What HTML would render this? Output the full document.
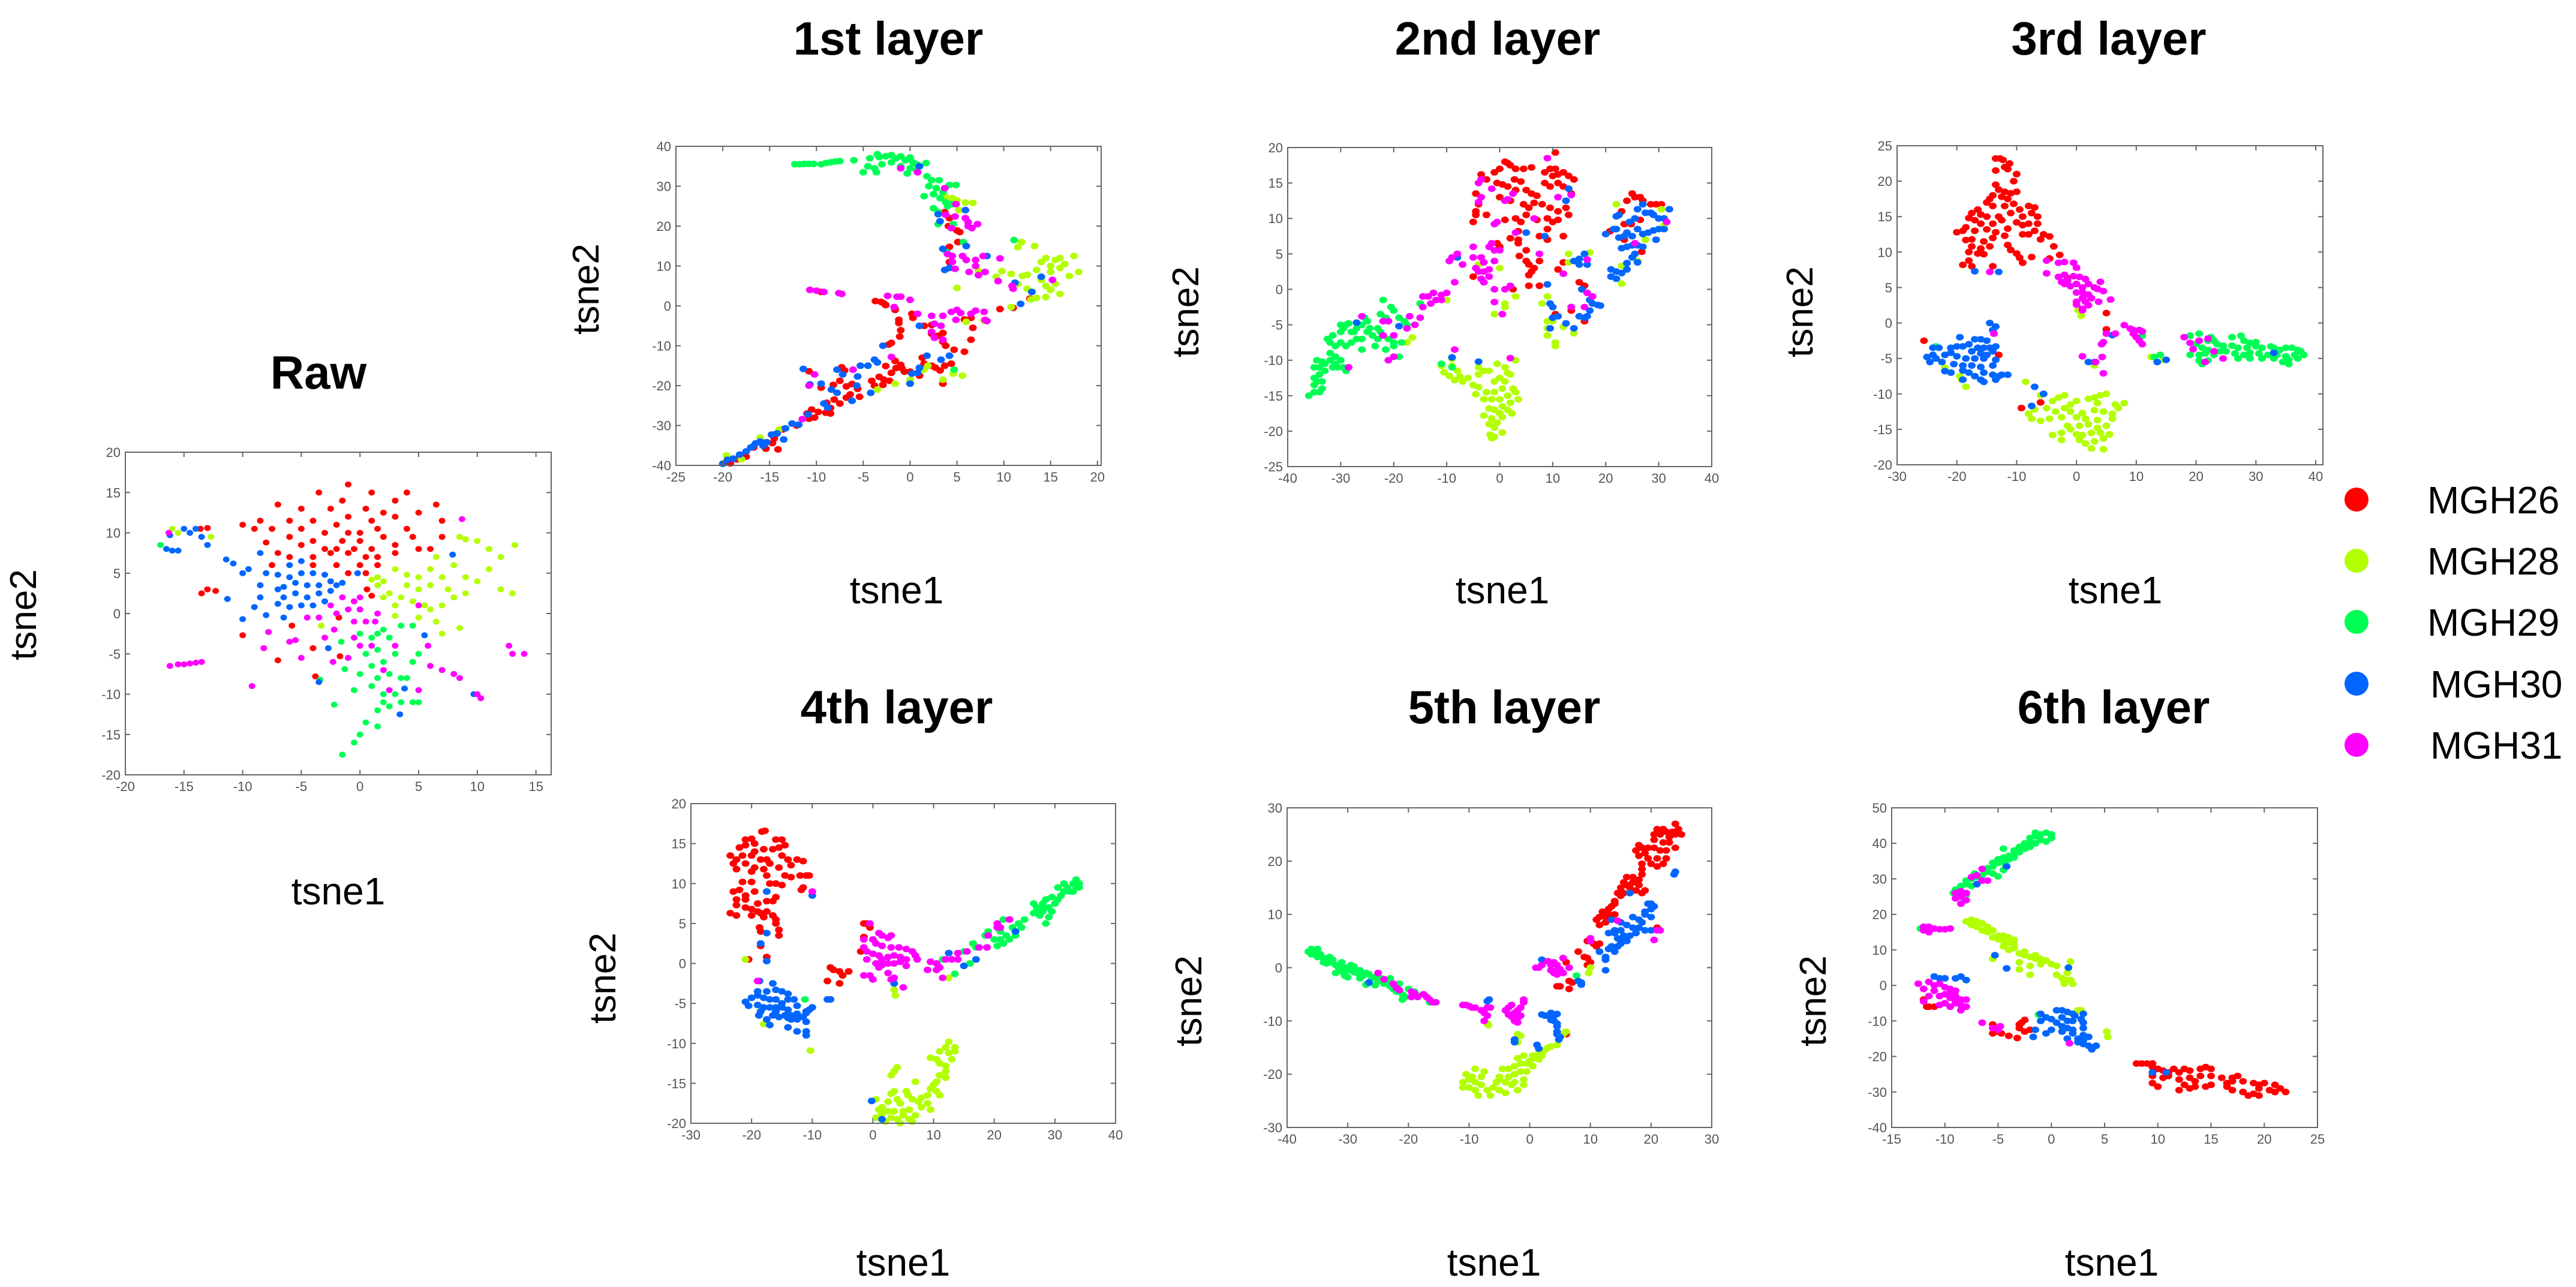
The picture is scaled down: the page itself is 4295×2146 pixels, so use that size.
<!DOCTYPE html>
<html><head><meta charset="utf-8">
<style>
html,body{margin:0;padding:0;background:#fff;}
svg{display:block;}
text{font-family:"Liberation Sans",sans-serif;}
.tk{font-size:22px;fill:#555;}
.ttl{font-size:78px;font-weight:bold;fill:#000;}
.xl{font-size:64px;fill:#000;}
.yl{font-size:62px;fill:#000;}
.lg{font-size:64px;fill:#000;}
</style></head>
<body>
<svg id="fig" width="4295" height="2146" viewBox="0 0 4295 2146" xmlns="http://www.w3.org/2000/svg">
<g id="legend">
<g><circle cx="3929" cy="833" r="20" fill="#ff0000"/><text class="lg" x="4047" y="856">MGH26</text></g>
<g><circle cx="3929" cy="935" r="20" fill="#b3ff00"/><text class="lg" x="4047" y="958">MGH28</text></g>
<g><circle cx="3929" cy="1037" r="20" fill="#00ff55"/><text class="lg" x="4047" y="1060">MGH29</text></g>
<g><circle cx="3929" cy="1140" r="20" fill="#0066ff"/><text class="lg" x="4052" y="1163">MGH30</text></g>
<g><circle cx="3929" cy="1242" r="20" fill="#ff00ff"/><text class="lg" x="4052" y="1265">MGH31</text></g>
</g>
</svg>
<script>
const classNames=["MGH26","MGH28","MGH29","MGH30","MGH31"];
const classColors=["#ff0000","#b3ff00","#00ff55","#0066ff","#ff00ff"];

const rawXTicks=[-20,-15,-10,-5,0,5,10,15];
const rawYTicks=[-20,-15,-10,-5,0,5,10,15,20];
const l1XTicks=[-25,-20,-15,-10,-5,0,5,10,15,20];
const l1YTicks=[-40,-30,-20,-10,0,10,20,30,40];
const l2XTicks=[-40,-30,-20,-10,0,10,20,30,40];
const l2YTicks=[-25,-20,-15,-10,-5,0,5,10,15,20];
const l3XTicks=[-30,-20,-10,0,10,20,30,40];
const l3YTicks=[-20,-15,-10,-5,0,5,10,15,20,25];
const l4XTicks=[-30,-20,-10,0,10,20,30,40];
const l4YTicks=[-20,-15,-10,-5,0,5,10,15,20];
const l5XTicks=[-40,-30,-20,-10,0,10,20,30];
const l5YTicks=[-30,-20,-10,0,10,20,30];
const l6XTicks=[-15,-10,-5,0,5,10,15,20,25];
const l6YTicks=[-40,-30,-20,-10,0,10,20,30,40,50];

const raw26=[-1,16,-3.5,15,1,15,4,15,3,14,-1.5,14,-7,13.5,-5,13,-2.5,13,0.5,13,6.5,13.5,2,12.5,5,12.5,-8.5,11.5,-6,11.5,-4,11.5,-2,11,-1,12,1,11.5,3,12,7,11.5,-10,11,-7.5,10.5,-5,10.5,-3,10,-1,10,0,10,1.5,10.5,4,10.5,-9,10.5,-6,9.5,-4,9,-1.5,9,0,9,2,9.5,4.5,9.5,7,9.5,-8,8.8,-5,8.5,-3,8,-2,8,-0.5,8,1,8,3,8.5,5,8,6,8,-7,7.5,-6,7,-4,7,-2.5,7.5,-1,7.5,0.5,7,1.5,7,3,7.5,-4,6,-2,6,0,6,1.5,6,-7.5,6,-1,5,0.5,5,-13,3,-13.5,2.5,-12.3,2.8,-13.6,10.5,-13,10.6,-10,-2.7,-7,-5.8,-4,-4.3,-3.8,-7.8,-1.7,-5.3,1,2.2,-5.8,-1.5,0.6,3,-1.8,-0.5];
const raw28=[1,4.2,1.5,4.5,2,4,1.5,3.5,3,5.5,4,4.8,5,4.5,6,3.5,7,4.5,2.5,2.5,3.5,2,4.5,1.5,5.5,1,6,0.5,7,1,8,2,9,2.5,10,4,11,5.5,10,9,9,9.2,8.5,9.5,11,8,12,7,12,3,2,2,3,1,5,-0.5,6.5,-1,7,-2.5,4.5,-1.5,3,-0.3,8.5,-1.8,9,4.5,8,6,6.5,7,7.5,3,5,3,4,3.5,6,5.5,-3.3,-1.5,-16,10.5,-15.5,10,-12.7,9.5,13,2.5,13.2,8.5];
const raw29=[-1.5,-17.5,-0.5,-16,0,-15,0.5,-13.5,1.5,-14,1.5,-12,2,-11,2.5,-11.5,2,-10,3,-10,3.5,-11,4.5,-11,1,-9,1.5,-8,2.5,-7.5,3.5,-8,4,-8,0,-7.5,1,-6.5,2,-6,3,-5,4.5,-6,0.5,-5,1.5,-4.5,2.5,-3,1,-3,0,-2.5,2,-2,3.5,-1.5,4.5,-1.5,-1.6,-3.5,-1.3,-6.9,-2.2,-11.3,5,-11,5,-5,1.5,-2.5,-0.5,-9.5,-17,8.5,-3.4,-8.2];
const raw30=[-5,6.5,-6,6,-7,4.8,-6,4.5,-5,5,-4,5,-3,4.8,-2.5,4,-2,3.5,-1.5,3.8,-3.5,3.5,-4.5,3.5,-5.5,3.8,-6.5,3.3,-7,3,-5.5,2.5,-4.5,2,-3.5,2.5,-2.5,2.8,-6.5,2,-5,1,-6,0.8,-7,1.2,-4,1,-3,1.5,-8,5,-8.5,3.5,-8.5,2,-9,0.8,-10,-0.7,-8,-0.2,-6.5,-0.5,-10,5,-9.5,5.5,-10.8,6.2,-11.4,6.7,-11.3,1.8,-8.5,7.5,-15,10.5,-14,10.5,-14.5,10,-13.5,9.5,-13,8.5,-16.5,8,-16,7.8,-15.5,7.8,-16.2,9.7,-2.7,-4.3,3.4,-12.5,3.8,-9.3,5.5,-2.7,7.9,7.3,9.7,-10,-0.2,5,-3.5,-8.5];
const raw31=[-16.2,-6.5,-15.5,-6.3,-15,-6.3,-14.5,-6.2,-14,-6.1,-13.5,-6,-9.2,-9,-8.2,-4.3,-7.8,-2.3,-6,-3.5,-5.5,-3.3,-5,-5.5,-4.5,-0.5,-3.5,-0.5,-2.5,1,-2,0,-1,0.5,-0.5,1.5,0,2,-1.5,2,-0.5,-1,0.5,-1,1.3,-1,1.5,0,0,0.5,-2.2,-2,-3,-3,-0.5,-3,0,-4,1,-4,-2.3,-6,-1,-5.5,2,-7,3,-4,2.5,-9.5,5,-9.5,5,1,5.8,-4,6,-6.5,7,-7,8,-7.5,8.5,-8,8.7,11.7,10,-10,10.3,-10.5,12.7,-4,13,-5,14,-5,-16.3,10];

const l1_26=[-19.2,-39.5,-18.5,-38.5,-17.5,-37.8,-16.7,-35.5,-15.4,-35.8,-15.8,-34.2,-14.5,-33.2,-14.7,-34.4,-14.1,-36,-14.4,-32.2,-13.6,-31,-12.1,-30,-11,-27,-10.8,-28.3,-10.2,-28,-9.8,-26.6,-10.5,-26,-9,-26.8,-8.5,-27,-8.5,-25.6,-8.9,-24.3,-8.1,-23.5,-7.5,-24.5,-6.8,-23,-6.4,-22.2,-5.4,-22.8,-5.6,-20.8,-6.2,-19.6,-6.8,-20.2,-7.5,-18.8,-8.2,-19.8,-9.5,-20.5,-10.8,-16.4,-7.3,-15.4,-7,-16.2,-4.1,-18.8,-3.8,-20,-2.9,-19.8,-3.3,-17.8,-2.8,-18.5,-2.2,-18.8,-2,-16.8,-2.6,-15.1,-1.6,-13.8,-1.5,-15.6,-1,-14.8,-0.9,-15.6,0,-16.5,1,-17.5,-0.6,-16.5,1.3,-13,1.5,-14.5,2.7,-15.5,2.3,-15,3.2,-16.2,3.7,-15,4.4,-14.5,3.5,-19.5,5.8,-11.5,4.7,-11,3.8,-10,3.5,-9,3,-7.5,3.5,-6.8,2.3,-7,1.5,-5,2.3,-4.8,0.2,-2,0.3,-3,-1.2,-3.5,-1.2,-4.3,-1,-6.1,-1.1,-7.7,-2.3,-9.7,-2,-9.3,-1.6,-1,-1.6,-0.7,-2.6,0.2,-2.8,0.6,-3.7,1.2,-3.1,1,-9.5,3.5,6.5,-3,6.7,-5.5,6.5,-8.5,5.8,-3.4,9.6,-0.8,12.8,1.8,4.1,20,5,18.9,5.3,18.5,4.2,22,3.7,23.5,5.1,16,4.2,14.8,4.2,11,11,-0.5];
const l1_28=[4.5,27,5,26.5,3.8,27.3,5.9,25.9,6.7,25.8,5.2,24,7.3,8.8,9.2,7.3,9.8,8.7,10.8,8,11.5,5.5,12,7.5,12.5,7.8,12.5,4.3,13,3.5,13.5,9,14,11,14.5,12,15,10,15.5,11.5,16,12,16.5,10.5,17.5,12.5,18,8.5,17,7.5,16,9.5,15,8.5,14,6.5,14.5,5,15.5,5.5,15,4,16,3,13.5,2,14.5,2.2,12.9,1.6,11.5,14.7,11.9,16,13.3,15,5,4.5,10.8,-0.3,6,-4,7.9,-3.7,1.9,-15,1.5,-16,0,-18.5,4.6,-17,5.6,-17.5,3.5,-18.5,-3.5,-21,-1.6,-19.5,-16,-33,-18,-38.5,-19.6,-37.5,-14,-31];
const l1_29=[-12.3,35.5,-11.8,35.5,-11.3,35.6,-10.8,35.6,-10.3,35.6,-9.5,35.5,-9,35.8,-8.5,36,-8,36.2,-7.5,36.3,-6,36.5,-4.3,37,-3.5,38,-3.3,37.3,-2.6,37.5,-2,37.8,-1.5,37,-1,37.5,-0.5,36.5,0,37.2,0.3,36,-4.5,35,-3.8,34.5,-3,35.5,-2,36,-1,35,0,34.5,0.7,35.5,1.7,35.8,-5,33.5,-3.6,33.5,-0.3,33.2,0.7,34,1.8,32.5,2.3,31.5,3.1,31.5,4.2,30.3,4.9,30.3,2,30,2.8,29.5,3.5,28.5,1.5,27.5,2.5,28,3.2,27,3.8,26,4.5,25.5,2.5,24.5,4,25,3,23.5,3,20.5,4.6,20.5,5.7,16,3.9,13.5,11.1,16.5,4.7,-16];
const l1_30=[1,35,3,23,3.2,21.2,5.9,24,6,15,3.5,14.3,8.2,12.5,3.7,9,4.2,9.5,11.2,5.8,14,7.3,13,3.5,11.8,0.5,1,-5,-2.9,-10,-3.8,-13.5,-3.5,-14.2,1.8,-12.5,3.3,-13.5,4.2,-12.5,0.2,-17,0.8,-16.8,1,-15.5,0,-19.5,-5.6,-17.7,-5.3,-15,-4.5,-15,-7.8,-16,-7.2,-17.2,-11.4,-15.8,-9.5,-19.5,-10.7,-19.7,-5.7,-20,-4.2,-21.8,-6.2,-23.8,-7.8,-21.8,-8.4,-21,-8.8,-25.5,-9.2,-24.5,-10.9,-27.2,-12.6,-29.5,-11.9,-29.8,-13.3,-30.7,-13.5,-33.5,-14.2,-32,-14.8,-32.3,-15.3,-34.2,-16,-34,-16.5,-34.5,-16.8,-35.3,-17.5,-36.5,-18.2,-37.3,-18.9,-38.3,-19.5,-38.6,-20,-39.6,-17,-35.5,-15.7,-35.1];
const l1_31=[-10.7,4,-10,3.8,-9.2,3.5,-7.6,3.2,-7.3,3,-2.4,2.5,-1.4,2.3,-1,2.3,0,1.5,-1.7,-0.3,0.8,-2,2.3,-2.5,3.5,-2.5,4.4,-1.5,5,-1,5.4,-1.8,6.5,-2,7,-1.2,7.9,-1.5,8,-3.5,8.2,-3.8,4.9,-3.5,2.6,-4.5,3.3,-5,2.3,-6.5,3.5,-8.5,2.6,-8,-2,-12.8,-6.1,-16,-10.2,-17.2,-10.8,-20,-11.5,-28.4,4.5,11,5.6,12.5,6,11.5,7,11.5,7.8,12.5,7,10,6.3,8.5,7.3,7.7,8,8.5,9.6,11.9,9.4,6.2,10.9,5,11,4.3,15.2,6.5,4.8,9.3,4.5,12.5,4,13,3.8,22.8,4.8,22.4,4.9,25.5,5.9,22,6.2,21,6.2,20,7.2,20.5,6.6,19.5,4.4,19.5,-1,34.5,0.8,33.5,3.7,29.5];

const l2_26=[0,17,1,18,1.5,17.8,2,17.5,3,17,4.5,17,6,17.2,8.5,16.5,9.5,17,10,16,10.5,17,11,16.2,12,16.5,13,16,14,15.5,10.5,19.3,-3.5,16.2,-2.5,15.5,-1,16.5,-0.5,15,0.5,14.8,1.5,14.5,2.8,15.5,4,15.2,3,14,5,14,6,13.5,7,13.2,8.5,15,9.5,14.5,11,15,12,14.5,13.5,13.5,-4.5,13.5,-4,12,0,13,2,12.5,4.5,12,5.5,11.5,6.5,12.2,8,12,9.5,11.5,11,11,12.5,11.5,13,10.5,-4.5,11,-4.5,10.5,-2.5,10.5,-5,9.5,1,9.8,3,10,4,9.5,5,10.5,7,9.8,9,10,10,9.5,11,9.8,3.5,8.2,9,8.5,2,7.2,3.5,7,7.5,7.5,9,7,12,7.5,-0.5,6.5,0,6,3.5,6.5,5,5.5,3.7,4.7,5,4,5.5,3.5,7.5,4,5.5,2,6,2.5,6.5,3,5.5,0.5,7.5,0.5,2.5,0,11,2.8,12,3.8,15,1,15.5,0,16,-4.5,13.5,-3,10.5,-3.5,-5,1.8,25,13.5,25.5,13,26.5,13,27,12.5,28.5,12,29.5,12,30.5,12,24,12.5,23,11,23.5,9.2,24.8,9.2,20.8,8.2,26.5,9.8,23.5,7,26.8,5.3,16,0.5];
const l2_28=[-11,-10.8,-9,-10.8,-10.5,-11.7,-9.5,-12.2,-8,-11.5,-7.5,-12.3,-8.5,-12.8,-7,-13,-6,-12.5,-5,-13.5,-4,-11,-4,-12,-3,-11.5,-2,-11.5,-0.5,-10.5,1,-11,1.5,-11.8,2,-12,0,-12.5,1,-13,-1,-13,0.5,-14,-1,-14.5,-2.5,-14.5,-4,-13.8,-4.5,-14.8,-3,-15.5,-1.5,-15.5,0,-15.5,1.5,-15,2.5,-14,3,-14.5,3.5,-15.5,2,-16,0.5,-16.5,-1,-17,-2,-16.8,0,-17.5,1.5,-17,2.3,-17.5,-3,-17.8,-1.5,-18.2,-0.5,-18.8,0.5,-18,-2,-19,-1,-19.5,-1.8,-20.5,-1,-20.8,0.5,-20.2,-1.5,-21,3,-10,-9,-9.8,-10,-1.5,-1,-3.5,1,-2,1,-2.5,3,-1,-1,-1.8,-4,3.5,0,3,9,-1,8,-2,9,-4.5,10,-4.5,9,-5.5,9,-6.5,10.5,-7.5,10.5,-8,12,-5.3,14,-6.2,13,5,13,3.8,17,5.2,22,12,30.5,11.3,31,9,27.5,7,26,4,23,3.3,23,0.8,-17.5,-7.5,-16.5,-6.8,-15,-2];
const l2_29=[-36,-15,-35,-14.5,-34,-14.5,-35,-13.5,-33.5,-14,-34.5,-13,-33.5,-13,-35,-12.5,-34,-12,-33,-11.5,-34,-11,-35,-11,-33,-10.5,-32,-10,-31,-10.5,-30,-10,-30.5,-11,-29.5,-11,-33.5,-10.2,-34.5,-10,-32,-9,-31,-8,-30,-7.5,-29,-8,-32.5,-7,-31.5,-6.5,-30,-6,-29,-5,-28,-6,-27,-7,-26,-7,-25,-6,-24,-6.5,-23,-7,-22,-6.5,-21,-7,-20,-7.5,-30,-5,-29.5,-5.5,-28.5,-4.8,-27,-5.5,-26,-5,-25,-4.5,-24.5,-5.5,-23,-5.5,-22.5,-6,-21.5,-4,-21,-4.5,-20,-3,-20.5,-2.5,-19,-4,-22,-1.5,-22.5,-3.5,-25.5,-4,-23.5,-8,-21.5,-8.5,-19,-9.5,-20,-8,-17.5,-5,-18.5,-7.5,-26,-8.5,-27.5,-6,-18,-4.5,-15,-2,-11,-10.5,-9,-11,-31.5,-11,-31,-9.5,-28,-7.5,-32,-7.5,-29,-11.5];
const l2_30=[27,12,26,11.3,32,11.3,22,10.3,22.5,10.5,25.5,10,27.5,10.8,28.5,10.8,29,10.5,30,10,31,10,24.5,9.5,21.5,8.5,22,8.5,24,8,26,8.5,28,8,29,8.3,30,8.5,31,8.5,20,7.8,22.5,7.3,23.5,7.5,25,7.5,27,7.8,29.5,7,24,6,25,6.2,26,6.2,27,6,23,5.8,25.5,5,25,4.5,26,3.8,24,3.7,24,2.8,21,2.8,22,2.5,23,2.3,21,1.8,22,1.5,13,14.2,12.5,12.5,5,8,8.5,7.5,9,0.7,14,4,15,4.3,16,5,15,3.5,16.5,3.5,15.5,0,9.5,-2,10,-2.5,11,-3.8,13.5,-2.5,15,-3.8,16,-4,16.5,-3.8,17,-3,17.5,-2,18.5,-2.2,19,-2.3,17,-1.5,10,-4,9.5,-5.5,12.5,-4.8,14,-5.5,-27,-4.7,-19,-5.2,-9,-9.6,-4,-10.2,-8,4.5];
const l2_31=[-26,-3.8,-22,-4.5,-21,-4.5,-20,-6.5,-22,-6.5,-17,-3.8,-16,-5,-15,-4,-14.5,-2.5,-14.5,-1,-13.5,-1,-13,-2,-12.5,-0.5,-12,-1.5,-11,-1.5,-11,-0.8,-10,-0.5,-17.5,-5.5,-20,-9.5,-21,-10,-28.5,-11,-8.5,1,-9.5,4,-9,4.5,-8,5,-7,3.5,-5,6,-5,4.5,-4.5,3,-4,2.5,-3,2.5,-3,3.8,-2,2.8,-2,1.8,-3,1,-3.5,1.5,-3.5,4.5,-2,6,-1.5,6.5,-1,5.5,0,5.5,-1,4,-1,0,1,0,2,0.5,-1,-1.8,0.5,-3.5,7.5,5,6.5,10,-8.5,-8.5,2,-9.7,-4,15,-3.5,15.5,-3.5,13,-4,12.3,-1.5,14.2,1,12.5,1.5,12.7,2.5,13.5,-0.5,9.5,-1,9.2,3,8,11,13,13.5,13.3,9,18.5,12,2.2,13.5,-2.5,16.5,-0.5,17.5,-1,16,-2.5,16.5,4.2,25.5,6.5,31.5,9.5];

const l3_26=[-13.5,23.2,-12.8,23.2,-12.3,23,-11.2,22.5,-12,22,-11.5,21.7,-13.5,21.5,-13.5,19.5,-10,21,-10.5,20,-13,18.8,-12,18.5,-11,18.3,-10,18.5,-14,18,-14.5,17.5,-12.5,17.8,-11.5,17.5,-15,17,-14,16.5,-12,16.5,-10.5,16.8,-9.5,16,-8,16.5,-7,16.3,-16.5,16,-17.5,15.5,-16,15.3,-15,15,-13,15,-11,15.5,-9,15,-7.5,15.5,-6.5,15,-18,14.8,-17,14.5,-16,14,-14,14,-12.5,14.5,-10,14.2,-9,13.8,-8,14,-6.5,14,-19,13,-20,12.8,-18.5,13.5,-17,13,-15,13.2,-13.5,12.8,-11.5,13.3,-8,12.5,-7,13,-5.5,12.5,-4.5,12.2,-18.5,11.7,-17.5,11.8,-15.5,11.5,-14,12,-12,12.3,-9,12.5,-6,11.8,-17.5,10.8,-16,10.5,-14.5,10.8,-11.5,11,-11,10.3,-3.8,10.8,-18,10,-16.5,9.8,-15.5,9.7,-10,9.8,-9.5,9.2,-7.5,9.3,-4.5,9.1,-19,8.2,-18,8.8,-17.5,8,-14,8,-9,8.5,-2.8,9.6,-1.5,6.3,5,1.4,5,-0.9,-25.5,-2.5,-13,-4.5,-9.2,-12,-6,-11.2];
const l3_28=[-19.5,-7.5,-19.2,-8,-18.5,-9,-22,-6.3,-8.5,-8.3,-6,-10.2,-4,-11,-3,-10.5,-2,-10.2,-1,-11.5,0,-11,2,-10.7,3,-10.5,4,-10.2,5,-10,3.5,-11.3,6.5,-11.5,7,-12,8,-11.3,-8,-12.8,-7,-12.2,-5,-12,-3.5,-12.5,-2,-12,-1,-12.5,1,-12.7,3,-12.3,4.5,-12.5,6,-12.8,-7.5,-13.5,-6,-13.8,-4.5,-13.5,-2.5,-13.3,0,-13.3,1.5,-13.5,3.5,-13.7,6,-13.5,-1.5,-14.5,0.5,-14.5,2,-14.3,3.5,-14.8,5,-14.5,-4,-15.8,-2.5,-15.5,-1,-15,0,-15.7,1,-15.8,2.5,-15.5,4,-15.5,5.5,-15.7,-2.5,-16.5,0.5,-16.5,1.5,-17,3,-16.7,4.5,-16.3,2.5,-17.7,4.5,-17.8,0.3,1.8,0.8,1,3,-6,12.5,-4.8,14.5,-5.2];
const l3_29=[19,-1.8,20.5,-1.5,22,-2.5,22.5,-2,23,-2.5,26,-2,27.5,-1.8,28,-2.5,29,-2.8,30,-2.7,20,-3,21,-3.5,22,-3.8,23.5,-3,24.5,-3.2,26,-3.2,27,-3.5,28.5,-3.5,30,-3.3,31,-3.5,32.5,-3.3,33,-3.5,34,-3.8,35,-3.5,36,-3.5,37,-3.8,37.5,-4,19,-4.5,20.5,-4.5,21.5,-4.3,23,-4.5,24,-4,25,-4,26.5,-4.3,28,-4.5,29,-4.2,30.5,-4.3,32,-4.5,33.5,-4.5,35,-4.7,36.5,-4.5,38,-4.5,20.5,-5.3,22,-5.3,27,-5,29,-5,31,-5,33,-5,34.5,-5.5,35.5,-5.2,37,-5,21,-5.8,35.5,-5.8,11,-1.8,13,-4.8,14,-4.5,-23.5,-3.3];
const l3_30=[-14.5,0,-13.5,-0.5,-17,7.3,-13,7.2,-14,-1,-19.5,-2,-17,-2.3,-16,-2.3,-15,-2.5,-18,-3,-16.5,-3.5,-15.5,-3.5,-14.5,-3.5,-13.5,-3.3,-24,-3.5,-23,-3.5,-21,-3.5,-20,-3.3,-19,-3.3,-17.5,-4,-16,-4.3,-15,-4.5,-14,-4,-25,-4.8,-24,-4.5,-22,-4.5,-21,-4.2,-20,-4.7,-18.5,-5,-17,-5,-15.5,-5,-13.5,-5.2,-23.5,-5,-24.5,-5.5,-22.5,-5.5,-20.5,-5.8,-19,-6,-17.5,-6,-16,-6.2,-14,-6,-22,-6.8,-21,-7,-19,-6.7,-18,-7,-17,-7.5,-15.5,-7,-14,-7.3,-13,-7.5,-12.5,-7.3,-11.5,-7.3,-13.5,-8,-19,-8,-15.5,-8.3,-16,-8,6,-1.7,2,-5.5,3,-5.5,13.5,-5.5,15,-5.2,33,-4.2,-7,-9,-5.5,-10,-7.5,-11.7];
const l3_31=[-5,8.8,-3,8.5,-2,8.6,-0.5,8.5,0,7.8,-5,7,-3,6.5,-2,6.8,-1.5,6,-0.5,6.6,0.5,6.5,1.5,6.2,-2.5,5.8,-2,5.5,-1,5.2,0,5.5,1,5,2,5.5,3,5,4,5.8,0,4.3,1,4.3,2,4,3.5,4.8,4.5,4.5,1,3.5,0,3,1.5,3,2.5,3.5,3.7,3,5.7,3.3,0,2.6,2,2.5,1,2,1,1.8,-14.5,7.2,5,-1.5,6.5,-1.5,4.5,-2.7,4.2,-3,1,-4.7,4.3,-4.8,3.2,-5.5,4.5,-7.1,8,-0.3,9,-0.8,9.5,-1.5,10.5,-1,10,-2,10.5,-2.5,11,-3,9.5,-1,11,-1.2,18,-2,19,-2.8,20.5,-2.5,22,-2.2,19.5,-3.7,23,-4,21.5,-5.5,24.5,-5,-13.8,-1.5];

const l4_26=[-18.3,16.5,-17.8,16.6,-21,15.5,-20,15.6,-19.5,15,-16,15.5,-15,15.5,-22,14.5,-21,14.8,-19.5,14,-18,14.3,-16.5,14.3,-15.5,14.5,-14.5,14.8,-23.5,13.5,-22.5,13,-21.5,13.5,-20,13.5,-18.5,13,-17.5,13,-15,13.5,-14,13,-12.5,13,-11.5,12.8,-23,12.5,-21,12.5,-19.5,12,-17,12.5,-15.5,12,-13.5,12.3,-22.5,11.8,-20,11.5,-18,11.8,-17.5,11,-14.5,11,-13.5,10.8,-12,11,-11,11,-10.5,11,-21.5,10.2,-20,10.2,-17,10,-16,10,-15,9.8,-11.5,9.5,-11.8,9.2,-23,9,-22,9.2,-19.5,9,-21,8.5,-22.5,8,-21,8,-19,7.5,-17.5,7.8,-16.5,7.8,-16,8.3,-22.5,7.3,-21,7,-20,6.8,-19,6.5,-18.5,6.3,-17.5,6.5,-16.5,6,-23.5,6.3,-22.5,6,-20,6,-18,5.8,-16,5.5,-16,5,-18.7,4.5,-15.5,4.2,-15.5,3.5,-18.5,4,-18.5,2.2,-21,0.5,-20.5,0.5,-17.5,0.8,-7.5,-2.2,-7,-0.5,-6.5,-0.8,-5.5,-1,-5,-1.5,-4,-1,-5.5,-2.5,-7,-4.5,-1.5,5,-1,5,-1.5,3.3,-2,1.5,-0.5,4.5];
const l4_28=[-21,0.5,-18,-7.6,-10.3,-10.9,3.5,-3.3,3.7,-4,12.5,-1.8,12.5,-9.8,12,-10.5,13.5,-10.5,13.5,-11,12.5,-11.2,11,-11,13,-12,9.5,-11.8,10.5,-12,11,-12.5,12,-12.8,4,-13,3.5,-13.5,3,-14,12,-13.5,11,-14,12,-14.3,10.5,-14.8,10,-15.2,9.5,-15.7,7,-14.8,10.5,-16,11,-16.5,9,-16.5,8,-16.8,7.5,-17.3,3.5,-16,3,-16.3,5.5,-16,5.8,-16.5,6.5,-17,4,-17,4.5,-17.5,2.5,-17.3,1.5,-18,0.5,-17,1,-18.3,1.5,-18.8,2.5,-18.5,3.5,-18.5,5,-18.5,6,-18.3,8,-18,9,-17.5,9.5,-18.3,0.5,-19.3,1.5,-19.5,2,-19.8,3,-19.3,4,-19.5,4.5,-20,6,-19.5,6.5,-19.8,7,-19,5,-19];
const l4_29=[-11.2,-4.5,11.5,0.5,13.5,-1.3,15,1.5,16,0,16.5,2.5,17,2,18.5,3.5,19,4,20,3,20.5,2.2,21,4,21,3,21.5,2.5,21.5,5.5,22,3.5,22.5,3,23,4.5,23.5,3.5,24,5,25,5.5,24.5,4.5,26.5,6.3,27,7,27.5,6,28,7.5,28,6.5,28.5,8,29,7,29,5.8,29.5,8.3,30,7.5,30.5,8,29.5,6.5,28.5,5,31,8.5,31.5,9,32,9.5,32.5,9,33,10,33.5,10.5,34,10,33.5,9.5,33,9,34,9.5,30.5,9.5,31.5,10,28,7,27,6.5,26.5,7.5];
const l4_30=[-17.5,9,-10,8.5,-17.5,3.8,-18.5,2.5,-17.5,0.3,-18.7,-2.2,-16.5,-2.5,-19,-3.5,-17.5,-3.5,-16,-3.3,-15,-3.5,-14,-3.8,-21,-4.8,-20,-4.3,-19,-4,-18,-4.3,-17,-4.5,-16,-4.5,-15,-5,-14,-4.5,-13,-4.5,-20.5,-5.3,-19,-5.2,-18,-5.5,-17,-5.5,-16,-5.5,-15,-5.5,-14,-5.8,-12.5,-5.3,-11,-6,-10,-5.5,-10.5,-5.8,-18.5,-6,-16,-6,-14.5,-6.5,-13.5,-6.5,-12.5,-6.3,-11.5,-6.7,-11,-6.2,-13.5,-7,-14,-6.8,-12.5,-7,-13,-6.7,-16.5,-6.5,-15.5,-6.7,-18.8,-6.5,-17.5,-7,-17,-7.7,-14,-8,-12.5,-8.5,-11,-9,-11,-8.5,-11,-7.3,-7.5,-4.5,-7,-4.5,3.5,-2.5,12.5,1.3,15,-0.3,17,0.5,23.5,4,-0.2,-17.2,1.5,-19.5];
const l4_31=[-10,9,-19,-2.2,-0.5,5,-1.5,3,-1.5,2,0,3,1,3.8,1.5,3.5,2.5,3.2,3,3.5,0.5,2.5,1.5,2.2,3,2,4.3,2,5.5,1.8,6.5,1.5,7,1,7.3,0.5,-1,1.5,0,1.2,1,1,1.5,0.5,2.5,0.8,3.5,1,4.5,0.8,5.5,0.5,-1,0.5,0.5,0,1.5,-0.2,2.5,0,3.5,0,4.5,0.2,5.5,-0.3,1,-0.5,-1.5,-1.5,-0.5,-1.5,0,-2,2.5,-1.2,3,-2,3.5,-1.8,5,-3,9,-0.8,9.5,0.2,10.5,0,11,-0.5,10.5,-0.8,11.5,-1.8,12,0.5,13,0.5,14,0.5,14,1.3,15.5,1.5,17.5,2,18.8,2,19,3.5,20.5,4.5,22.5,5.5,21,4.5,20.5,5];

const l5_26=[24,27,24.5,26,23.5,25.5,24,25,25,25,23,24.5,22.5,25.5,22,26,21,26,21.5,25,20.5,25,20.5,24,22,23.5,23,23.5,24,22.5,22.5,22,21.5,22,20.5,22.5,19.5,22.5,18.5,22.5,18,23,17.5,22,18,21,19,21.5,19.5,20.5,21,20.5,22.5,20.5,20,19.5,21,19,22,19.5,18.5,19.5,18.5,18.5,18.5,17.5,18,16.5,17,17,16,17,15.5,16,15,15,16,15.5,17,16,18,15.5,17.5,14.5,16.5,15,15.5,14,14.5,14,15,13.5,18.5,14,19,14.5,14,12.5,14,12,13.5,11.5,13,11,13,10,12.5,9.5,11.5,9.5,11,9,11.5,8,12.5,8.5,13,9.5,14,10,12,10.5,10,5,9.5,5,10.5,4.5,11,4,11.5,4.5,8,3,9,2,9.5,1.8,10,1,9.5,0.5,6,1,4.5,-0.5,6.5,-2.5,7,-2.8,4.5,-3.5,5,-3.5,6.5,-4,21,7.5,6,-12.5,5.5,-12.5];
const l5_28=[5.5,-12.5,5,-13,4.5,-14.5,-2,-12.5,-1.5,-12.8,-2,-14,-7,-10.5,3.5,-14.8,2.5,-15.5,1.5,-16,3,-15,2,-16.5,1,-17,0.5,-16.5,-1,-16.5,-2,-17,0,-17.5,1.5,-17.2,0.5,-18.5,-0.5,-18,-1.5,-18,-2.5,-18.5,-3.5,-19,-2.5,-20,-1.5,-19.5,-0.5,-19.5,-4.5,-19,-3.5,-20.5,-2.5,-21.5,-1,-21,-1,-22,-4,-21.5,-5,-20.5,-5.5,-21.5,-6,-22.5,-7,-23,-6.5,-24,-5,-23,-4,-23.5,-3,-22,-2,-23,-8,-22,-9,-21.5,-10,-21,-10.5,-20,-11,-21.5,-11,-22.5,-10,-22.5,-9,-23,-8.5,-24,-9.5,-20.5,-8,-20.5,-7.5,-19.5,-9,-19,10,0,9.7,-1,-6.8,-10.8,6,-12,-5,-21];
const l5_29=[-36.5,3,-36,2.5,-35.5,3.2,-35,2.8,-35,2,-34.5,2.3,-34,1.8,-33.5,1.5,-33,1,-32.5,1.5,-32,0.5,-31.5,0,-31,1,-30.5,0,-30,-0.5,-29.5,0.5,-29,-0.8,-28.5,-1,-28,-0.5,-27.5,-1.5,-27,-1,-26.5,-1.2,-26,-2,-25.5,-1.8,-25,-2.5,-24.5,-2,-24,-3,-23.5,-2.5,-23,-3.5,-22.5,-4,-22,-4.5,-21.5,-3,-21,-5,-20.5,-5.5,-20,-4,-19.5,-5.5,-19,-4.5,-18.5,-5.2,-30.5,-1.5,-30,-1.8,-32,-1,-34,1,-36,3.5,-35,3.5,-26.8,-3,-27,-3.2,-21,-6,-16.5,-6.5,-11,-7,7.7,-1.5,-34.5,2.5,-33,2,-28,-2,-25.5,-3.3,-23,-2,-33.5,0.8,-31,-0.7,-29,0.2];
const l5_30=[24,18,23.8,17.5,16.5,14,19.5,12,20,12,20.5,11.5,20,11,19,10.5,19,10,20,9.5,17,9.5,18,9,16,8,17,7.5,18,7.5,19,7,20,7,15,7,14,6.5,15.5,6,16.5,6,17.5,6.5,14.5,5.5,15,5,16,5,13.5,4,14.5,4,13,3.5,14,3,15,4.5,12.5,2,12.5,1.5,13,6.5,14,7,13.5,9,2,1.5,8,-2.5,8.5,-2.8,8.5,-3.2,-6.7,-6,-7,-6.3,2,-8.8,2.5,-9,3,-9,3.5,-8.5,4,-9,4.5,-8.7,3.5,-9.8,4,-10,4.5,-10.5,4.5,-11,4.5,-12,4.5,-12.5,5,-13,4.8,-13.5,-2.5,-13.5,-2.5,-14,1.2,-14.5,1.5,-15.2,-19.5,-5.5,-26.5,-2.8,12.5,-0.5,11.5,3,15,8.5,18.5,8.5];
const l5_31=[-25,-1,-24,-2.2,-22.5,-3,-22,-3.8,-21.5,-4.2,-19.5,-4.5,-19,-4.8,-19.5,-5.5,-18.5,-5.5,-17.5,-5,-17,-5.5,-16.5,-6,-16,-6.5,-15.5,-6.5,-11,-7,-10.5,-7,-10,-7.2,-9.5,-7.5,-9,-7.5,-8,-8,-7.5,-8.5,-7,-7.5,-6.5,-7.5,-7,-9,-7.5,-10,-4,-8,-3.5,-7.5,-3,-7,-2.5,-8.5,-2,-8,-1.5,-7.5,-1,-6,-1,-6.5,-3.5,-8.8,-2,-9.5,-3,-9.2,-2.5,-10,-2,-10.3,-1.5,-9,1,0,1.5,0,2,0.5,3,1.2,3.5,0.5,4,1,4.5,0.5,3.5,-0.5,4.5,-0.5,4,-1,4.5,-1.3,5,-0.3,5.5,-1,5.5,1.8,6.5,0,10,5.5,10,5,14.5,8.8,20.5,5.2,21,7,21.5,7];

const l6_26=[-12,-4,-11.7,-6,-11.5,-6,-11,-6,-5.5,-11,-5.5,-13.5,-5,-13,-4.7,-13.5,-4,-14.2,-3.2,-14.8,-2.8,-10.5,-2.5,-9.7,-3,-11,-3,-12,-2.5,-13,-2,-12.5,8,-22,8.5,-22,9,-22,9.5,-23,10,-23.5,9.5,-22,10.5,-24,11,-24.5,11.5,-23.5,12,-24.5,12.5,-23.5,13,-24,14,-23.5,14.5,-23,15,-23.5,9.5,-25.5,10.5,-26,11,-25.5,12,-26.5,13,-26,13.5,-27,14,-25.5,15,-25.5,16,-26,17,-26,17.5,-25.5,16.5,-27.5,17,-27,18,-27,19,-27.5,19.5,-28,20,-27.5,21,-28,21.5,-29,22,-30,21,-30,20.5,-29.5,19.5,-29,19,-30.5,18,-30,17,-29.5,16.5,-28.5,15,-28,14.5,-28.5,13.5,-28.5,12.5,-28,12,-29.5,10,-28.5,9.5,-27.5,13,-29,18.5,-31,19.5,-31];
const l6_28=[-8,18,-7.5,18.5,-7,18,-7.5,17,-6.5,17.5,-7,16.5,-6,16.5,-6.5,15.5,-6,15,-5.5,15.5,-5,14,-5.5,13.5,-5,13,-4.5,14,-4,13.5,-4.5,12.5,-4,12,-3.5,11.5,-4.5,11,-3.5,10.5,-4,10,-3.5,12.8,-5.5,7.5,-3,9,-2.5,9.5,-2.5,8.5,-2,8,-1.5,7.5,-1,7.5,-1.5,8.5,-0.5,7,0,6,0.5,5.5,-1,6,-2,5.5,-3,6.5,-3,4.5,-2,3,0.5,3,1,2,1.5,1.5,1.2,0.5,2,0.5,1.8,1.5,1.5,3.5,1.8,6.7,2.8,-7,2.5,-7,5.2,-13,5.3,-14.5];
const l6_29=[0,42.5,-0.5,43,-1,42.5,-1.5,42,-2,41.5,-1,41,0,41.5,-0.5,40.5,-1.5,40,-2,40.5,-2.5,40,-2,39,-3,39,-2.5,38.5,-3,37.5,-3.5,37,-3.5,38,-4,36.5,-4.5,36,-4,35.5,-4.5,35,-5,35.5,-5,34.5,-5.5,33.5,-5.5,34.5,-4.5,32.5,-4.3,34,-6,33,-6,32,-5.5,31.5,-6.5,31,-7,30.5,-7.2,31.5,-7.5,30,-8,29.5,-8,28.5,-8.5,28,-9,27,-8,25.5,-7.5,28,-8.5,25,-9.2,26,-8.3,24.8,-12.3,16,-1.2,-8.2,-4.5,38.5,-1.5,43,-3.5,36,-5,30.7];
const l6_30=[-4.2,33.5,-7,28.5,-5.3,8.5,-4.2,4.8,1.6,5,-11,2.5,-10.5,2,-10,2,-9,2,-8.5,2.5,-8,1.5,-1,-8,-0.5,-9,-1,-10,0,-9.5,0.5,-7,1,-7,1.5,-7.5,2,-8,3,-8,1,-9,2,-10,3,-10.5,0.5,-10.5,1,-11.5,1.5,-12,2,-12.5,3,-12,0,-12.5,-0.5,-13.5,1,-13,2,-13.5,1.5,-15,2.5,-15,3,-14,3.5,-14.5,2.5,-16,3,-16.5,3.5,-17,3.8,-18,4.2,-17,3,-15.5,2.8,-9.5,1.5,-10,-1.5,-12.5,-1.7,-14.5,9.5,-24.5,10.8,-24.5,2.2,-8.5];
const l6_31=[-6.5,32.8,-7,31,-7.5,30.5,-6.5,29.5,-6,29.5,-9,26,-8.5,26.5,-8,26,-8.5,25,-9,24.5,-8,24,-8.5,23,-12,16.5,-11.5,16.5,-11,16,-10.5,15.8,-10,15.8,-9.5,16,-12,15.5,-11.5,15,-12.5,0.5,-11.5,1,-11,0,-10.5,0.5,-12,-1,-11,-1.5,-10,-0.5,-9.5,-1,-9,-1.5,-9.5,-2,-10,-2.5,-9,-3,-8.5,-4,-9,-4.5,-8,-4,-9.5,-3.5,-10.5,-3,-11.5,-3,-12,-4.5,-10.5,-5.5,-9,-5,-8.5,-5.5,-8,-6,-8.5,-7,-9.5,-6,-10,-5,-6.5,-10.5,-5.5,-12,-5,-12.5,-4.8,-11.5,1.7,-16.3];

const panels=[
 {id:"raw",title:"Raw",box:[209,754,919,1292],xd:[-20,16.3],yd:[-20,20],xt:rawXTicks,yt:rawYTicks,series:[raw26,raw28,raw29,raw30,raw31],tx:531,ty:648,xlx:564,xly:1508,ylx:60,yly:1025,r:[5.5,5]},
 {id:"layer1",title:"1st layer",box:[1127,244,1836,776],xd:[-25,20.4],yd:[-40,40],xt:l1XTicks,yt:l1YTicks,series:[l1_26,l1_28,l1_29,l1_30,l1_31],tx:1481,ty:91,xlx:1495,xly:1006,ylx:998,yly:482,r:[6.5,5.5]},
 {id:"layer2",title:"2nd layer",box:[2147,246,2854,778],xd:[-40,40],yd:[-25,20],xt:l2XTicks,yt:l2YTicks,series:[l2_26,l2_28,l2_29,l2_30,l2_31],tx:2497,ty:91,xlx:2505,xly:1006,ylx:1998,yly:520,r:[6.5,5.5]},
 {id:"layer3",title:"3rd layer",box:[3163,243,3873,775],xd:[-30,41.2],yd:[-20,25],xt:l3XTicks,yt:l3YTicks,series:[l3_26,l3_28,l3_29,l3_30,l3_31],tx:3516,ty:91,xlx:3527,xly:1006,ylx:3022,yly:520,r:[6.5,5.5]},
 {id:"layer4",title:"4th layer",box:[1152,1340,1860,1873],xd:[-30,40],yd:[-20,20],xt:l4XTicks,yt:l4YTicks,series:[l4_26,l4_28,l4_29,l4_30,l4_31],tx:1495,ty:1206,xlx:1506,xly:2127,ylx:1026,yly:1631,r:[6.5,5.5]},
 {id:"layer5",title:"5th layer",box:[2146,1347,2854,1880],xd:[-40,30],yd:[-30,30],xt:l5XTicks,yt:l5YTicks,series:[l5_26,l5_28,l5_29,l5_30,l5_31],tx:2508,ty:1206,xlx:2491,xly:2127,ylx:2003,yly:1669,r:[6.5,5.5]},
 {id:"layer6",title:"6th layer",box:[3154,1347,3864,1880],xd:[-15,25],yd:[-40,50],xt:l6XTicks,yt:l6YTicks,series:[l6_26,l6_28,l6_29,l6_30,l6_31],tx:3524,ty:1206,xlx:3521,xly:2127,ylx:3044,yly:1669,r:[6.5,5.5]}
];

const NS="http://www.w3.org/2000/svg";
const svg=document.getElementById('fig');
function mk(tag,attrs,parent){const e=document.createElementNS(NS,tag);for(const k in attrs)e.setAttribute(k,attrs[k]);parent.appendChild(e);return e;}

panels.forEach(p=>{
  const [l,t,r,b]=p.box;
  const sx=v=>l+(v-p.xd[0])/(p.xd[1]-p.xd[0])*(r-l);
  const sy=v=>b-(v-p.yd[0])/(p.yd[1]-p.yd[0])*(b-t);
  const g=mk('g',{},svg);
  
  
  const ti=mk('text',{x:p.tx,y:p.ty,'text-anchor':'middle','class':'ttl'},g);
  ti.textContent=p.title;
  
  
  const plot=mk('g',{},g);
  
  
  p.series.forEach((arr,ci)=>{
    const sg=mk('g',{fill:classColors[ci]},plot);
    
    
    for(let i=0;i+1<arr.length;i+=2){
      const e=mk('ellipse',{cx:sx(arr[i]).toFixed(1),cy:sy(arr[i+1]).toFixed(1),rx:p.r[0],ry:p.r[1]},sg);
      
      
    }
  });
  const frame=mk('rect',{x:l,y:t,width:r-l,height:b-t,fill:'none',stroke:'#666','stroke-width':2},g);
  
  
  const xa=mk('g',{},g);
  
  
  p.xt.forEach(v=>{
    const x=sx(v);
    mk('line',{x1:x,y1:b,x2:x,y2:b-8,stroke:'#666','stroke-width':2},xa);
    mk('line',{x1:x,y1:t,x2:x,y2:t+8,stroke:'#666','stroke-width':2},xa);
    const tx=mk('text',{x:x,y:b+27,'text-anchor':'middle','class':'tk'},xa);
    tx.textContent=String(v);
    
    
  });
  const ya=mk('g',{},g);
  
  
  p.yt.forEach(v=>{
    const y=sy(v);
    mk('line',{x1:l,y1:y,x2:l+8,y2:y,stroke:'#666','stroke-width':2},ya);
    mk('line',{x1:r,y1:y,x2:r-8,y2:y,stroke:'#666','stroke-width':2},ya);
    const ty=mk('text',{x:l-8,y:y+8,'text-anchor':'end','class':'tk'},ya);
    ty.textContent=String(v);
    
    
  });
  const xl=mk('text',{x:p.xlx,y:p.xly,'text-anchor':'middle','class':'xl'},g);
  xl.textContent='tsne1';
  
  
  const yl=mk('text',{x:p.ylx,y:p.yly,'text-anchor':'middle','class':'yl',transform:'rotate(-90 '+p.ylx+' '+p.yly+')'},g);
  yl.textContent='tsne2';
  
  
});
</script>
</body></html>
